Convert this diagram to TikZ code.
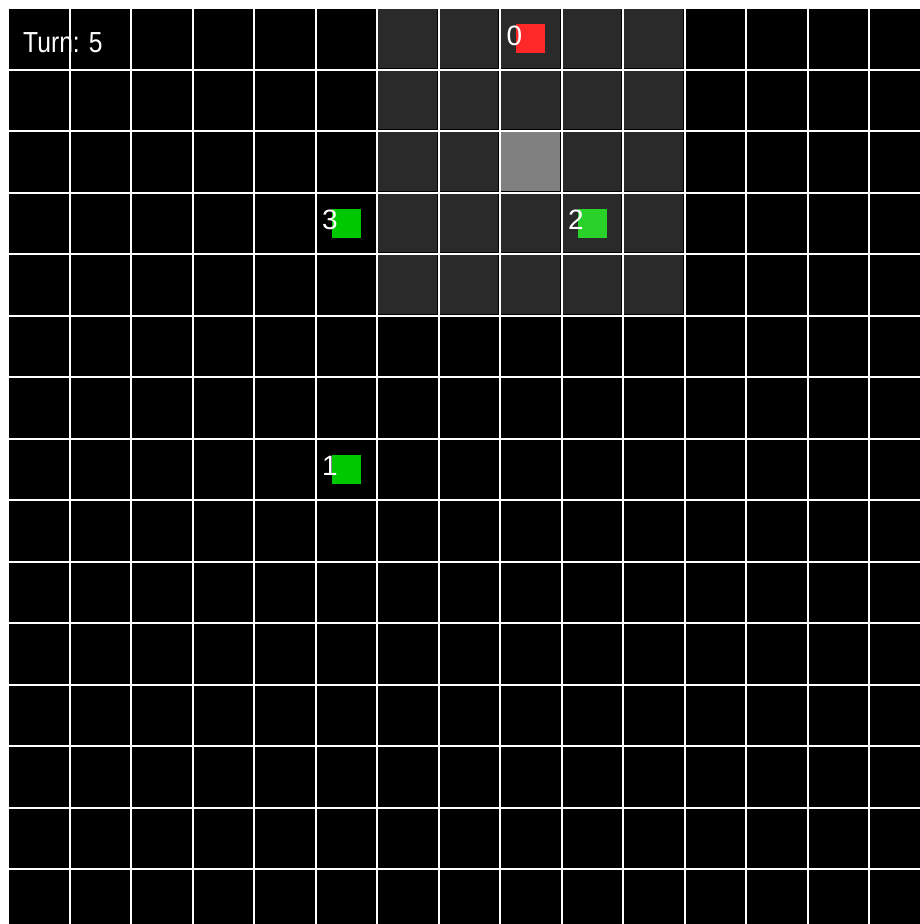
\documentclass[tikz,border=0pt]{standalone}
\usepackage{graphicx}
\usepackage{fontspec}
\setmainfont{Liberation Sans}
\usepackage{tikz}
\definecolor{fogcell}{RGB}{42,42,42}
\definecolor{seencell}{RGB}{128,128,128}
\definecolor{agentred}{RGB}{255,40,40}
\definecolor{agentgreen}{RGB}{0,200,0}
\definecolor{agentlight}{RGB}{40,210,40}

\begin{document}
\begin{tikzpicture}[x=1pt,y=-1pt]

\tikzset{every node/.style={text=white,inner sep=0pt,font=\fontsize{28}{28}\selectfont},
  agent/.style={draw=none,minimum size=29pt,anchor=north west},
  agentlabel/.style={anchor=base east}}
\clip (0,0) rectangle (920,924);
\fill[white] (0,0) rectangle (920,924);
% board cells
  \foreach \x in {0,...,14}
    \foreach \y in {0,...,14}
      \fill[black] (9+61.5*\x,9+61.5*\y) rectangle ++(59.5,59.5);
% field of view
  \foreach \x in {6,...,10}
    \foreach \y in {0,...,4}
      \fill[fogcell] (9+61.5*\x,9+61.5*\y) rectangle ++(58.5,58.5);
	\fill[seencell] (9+61.5*8,9+61.5*2) rectangle ++(58.5,58.5);
% turn counter
    \node[anchor=base west,font=\fontsize{29}{29}\selectfont] (turn) at (23,52.5) {\scalebox{0.85}[1]{Turn: 5}};
% agents
    \node[agent,fill=agentred] (agent0) at (9+61.5*8+15,9+15) {};
    \node[agent,fill=agentgreen] (agent1) at (9+61.5*5+15,9+61.5*7+15) {};
    \node[agent,fill=agentlight] (agent2) at (9+61.5*9+15,9+61.5*3+15) {};
    \node[agent,fill=agentgreen] (agent3) at (9+61.5*5+15,9+61.5*3+15) {};
  \foreach \i in {0,...,3}
    \node[agentlabel] (label\i) at ([shift={(6.5,21)}]agent\i.north west) {\i};
\end{tikzpicture}
\end{document}
